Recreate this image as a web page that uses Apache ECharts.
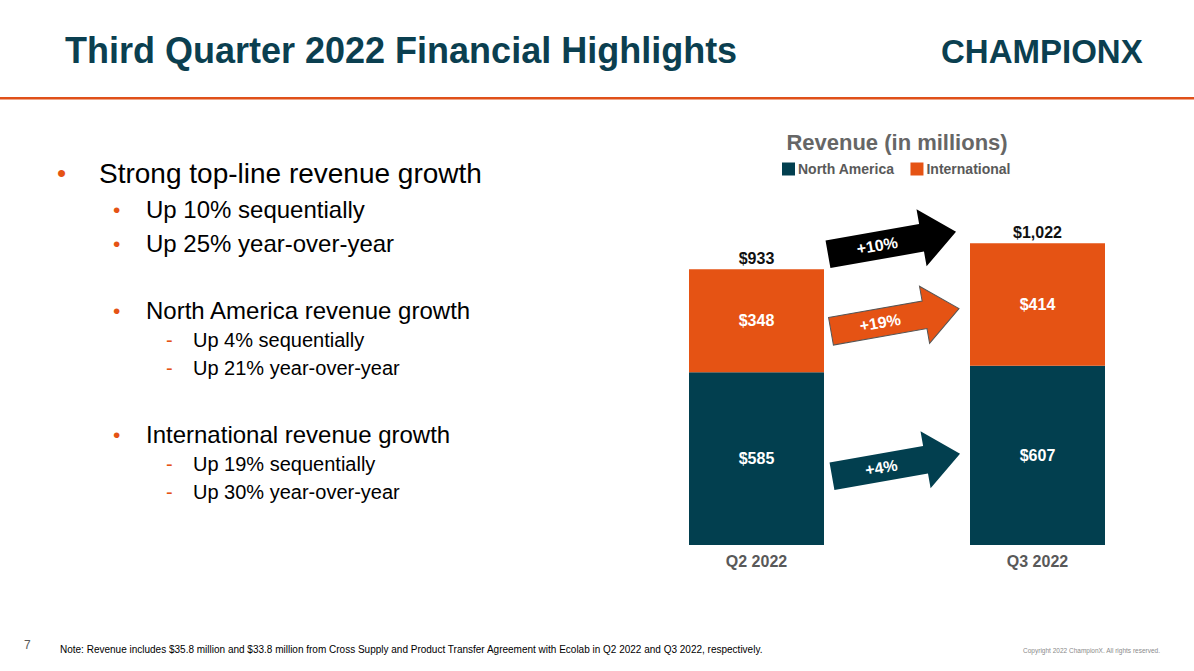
<!DOCTYPE html>
<html>
<head>
<meta charset="utf-8">
<style>
html,body{margin:0;padding:0;background:#fff;}
#main{width:1194px;height:671px;}
</style>
<script src="https://cdn.jsdelivr.net/npm/echarts@6/dist/echarts.min.js"></script>
</head>
<body>
<div id="main"></div>
<script>
// ---- data ----
const categories = ['Q2 2022', 'Q3 2022'];
const northAmerica = [585, 607];
const international = [348, 414];
const totals = [933, 1022];
const growthLabels = ['+10%', '+19%', '+4%'];
const seriesNames = ['North America', 'International'];

const NAVY = '#023F4F';
const ORANGE = '#E55314';
const FONT = 'Arial, "Liberation Sans", sans-serif';

function money(v) { return '$' + v.toLocaleString('en-US'); }

function arrow(cx, cy, color, label, stroke) {
  return {
    type: 'group',
    x: cx, y: cy,
    rotation: 10 * Math.PI / 180,
    children: [
      {
        type: 'polygon',
        shape: { points: [[-65, -14], [30, -14], [30, -29], [65, 0], [30, 29], [30, 14], [-65, 14]] },
        style: { fill: color, stroke: stroke || null, lineWidth: stroke ? 1 : 0 }
      },
      {
        type: 'text', x: -15, y: 0,
        style: { text: label, fill: '#fff', font: 'bold 16px ' + FONT, align: 'center', verticalAlign: 'middle' }
      }
    ]
  };
}

function txt(x, y, text, size, color, weight) {
  return { type: 'text', x: x, y: y,
    style: { text: text, fill: color, font: (weight || 'normal') + ' ' + size + 'px ' + FONT, verticalAlign: 'middle' } };
}

const chart = echarts.init(document.getElementById('main'), null, { renderer: 'svg' });

const graphics = [
  // slide title
  txt(65, 50, 'Third Quarter 2022 Financial Highlights', 36, '#0B3F50', 'bold'),
  // logo
  { type: 'text', x: 941, y: 51,
    style: { text: 'CHAMPIONX', fill: '#0B3F50', font: '900 33px ' + FONT, verticalAlign: 'middle' } },
  // divider line
  { type: 'rect', shape: { x: 0, y: 97, width: 1194, height: 2.5 }, style: { fill: '#E05019' } },
  // bullets
  txt(57, 173, '•', 26, ORANGE), txt(99, 173, 'Strong top-line revenue growth', 28, '#000'),
  txt(113, 209, '•', 21, ORANGE), txt(146, 209, 'Up 10% sequentially', 24, '#000'),
  txt(113, 243, '•', 21, ORANGE), txt(146, 243, 'Up 25% year-over-year', 24, '#000'),
  txt(113, 310, '•', 21, ORANGE), txt(146, 310, 'North America revenue growth', 24, '#000'),
  txt(166, 340, '-', 20, ORANGE), txt(193, 340, 'Up 4% sequentially', 20, '#000'),
  txt(166, 368, '-', 20, ORANGE), txt(193, 368, 'Up 21% year-over-year', 20, '#000'),
  txt(113, 434, '•', 21, ORANGE), txt(146, 434, 'International revenue growth', 24, '#000'),
  txt(166, 464, '-', 20, ORANGE), txt(193, 464, 'Up 19% sequentially', 20, '#000'),
  txt(166, 492, '-', 20, ORANGE), txt(193, 492, 'Up 30% year-over-year', 20, '#000'),
  // arrows
  arrow(892, 243, '#000000', growthLabels[0]),
  arrow(895, 320, ORANGE, growthLabels[1], '#555'),
  arrow(896, 465, NAVY, growthLabels[2]),
  // footer
  txt(24, 645, '7', 12, '#595959'),
  txt(60, 649, 'Note: Revenue includes $35.8 million and $33.8 million from Cross Supply and Product Transfer Agreement with Ecolab in Q2 2022 and Q3 2022, respectively.', 10, '#000'),
  { type: 'text', x: 1160, y: 650, style: { text: 'Copyright 2022 ChampionX. All rights reserved.', fill: '#8a8a8a', font: '6.5px ' + FONT, align: 'right', verticalAlign: 'middle' } }
];

chart.setOption({
  animation: false,
  textStyle: { fontFamily: FONT },
  title: {
    text: 'Revenue (in millions)', left: 892, top: 126, textAlign: 'center',
    textStyle: { fontSize: 22, fontWeight: 'bold', color: '#666666', fontFamily: FONT }
  },
  legend: {
    data: seriesNames, left: 777, top: 157, itemWidth: 13, itemHeight: 13, itemGap: 16,
    icon: 'rect',
    textStyle: { fontSize: 14, fontWeight: 'bold', color: '#595959', fontFamily: FONT, padding: [0, 0, 0, -2] }
  },
  grid: { left: 616, width: 562, top: 220, height: 325, containLabel: false },
  xAxis: {
    type: 'category', data: categories,
    axisLine: { show: false }, axisTick: { show: false },
    axisLabel: { fontSize: 16, fontWeight: 'bold', color: '#595959', margin: 8, fontFamily: FONT }
  },
  yAxis: { type: 'value', min: 0, max: 1100, show: false, splitLine: { show: false } },
  series: [
    {
      name: seriesNames[0], type: 'bar', stack: 'rev', barWidth: 135, data: northAmerica,
      itemStyle: { color: NAVY },
      label: { show: true, position: 'inside', color: '#fff', fontSize: 16, fontWeight: 'bold', formatter: p => money(p.value) }
    },
    {
      name: seriesNames[1], type: 'bar', stack: 'rev', barWidth: 135, data: international,
      itemStyle: { color: ORANGE },
      label: { show: true, position: 'inside', color: '#fff', fontSize: 16, fontWeight: 'bold', formatter: p => money(p.value) }
    },
    {
      name: 'Total', type: 'bar', barWidth: 135, barGap: '-100%', data: totals, silent: true, z: 0,
      itemStyle: { color: 'rgba(0,0,0,0)' },
      label: { show: true, position: 'top', distance: 3, color: '#111', fontSize: 16, fontWeight: 'bold', formatter: p => money(p.value) }
    }
  ],
  graphic: graphics
});
</script>
</body>
</html>
